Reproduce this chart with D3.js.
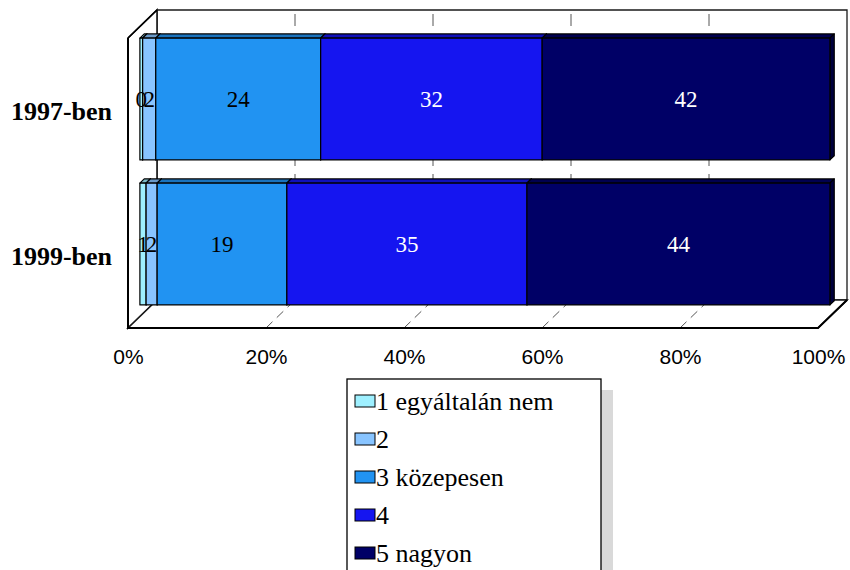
<!DOCTYPE html>
<html>
<head>
<meta charset="utf-8">
<script src="https://cdn.jsdelivr.net/npm/d3@7/dist/d3.min.js"></script>
<style>
  html, body { margin: 0; padding: 0; background: #fff; }
  svg { display: block; }
</style>
</head>
<body>
<svg id="chart" width="850" height="570"></svg>
<script>
// Survey answers, share of respondents (%) per year
const years = ["1997-ben", "1999-ben"];
const answers = ["1 egyáltalán nem", "2", "3 közepesen", "4", "5 nagyon"];
const values1997 = [0.4, 1.9, 23.9, 32.1, 41.7];
const values1999 = [0.9, 1.6, 18.8, 34.8, 43.9];
const tickValues = [0, 20, 40, 60, 80, 100];
const colors = ["#9ff0ff", "#88c4ff", "#2193f2", "#1515f0", "#000066"];
const labelColors = ["#000", "#000", "#000", "#fff", "#fff"];

const series = [values1997, values1999];

const svg = d3.select("#chart");

// Front plane of the 3-D box, plus the depth offset toward the back wall
const x = d3.scaleLinear().domain([0, 100]).range([128, 818]);
const y = d3.scaleBand().domain(years).range([38, 328])
  .paddingInner(0.16).paddingOuter(0.08);
const DX = 29, DY = -28;
const proj = (px, py, d) => [px + DX * d, py + DY * d];
const poly = pts => pts.map(p => p.join(",")).join(" ");

// Walls and floor
const yTop = 38, yBot = 328;
const wallStroke = "#1a1a1a";
svg.append("polygon") // back wall
  .attr("points", poly([proj(x(0), yTop, 1), proj(x(100), yTop, 1), proj(x(100), yBot, 1), proj(x(0), yBot, 1)]))
  .attr("fill", "#fff").attr("stroke", wallStroke).attr("stroke-width", 1.3);
svg.append("polygon") // side wall
  .attr("points", poly([[x(0), yTop], proj(x(0), yTop, 1), proj(x(0), yBot, 1), [x(0), yBot]]))
  .attr("fill", "#fff").attr("stroke", wallStroke).attr("stroke-width", 1.6);
svg.append("polygon") // floor
  .attr("points", poly([[x(0), yBot], proj(x(0), yBot, 1), proj(x(100), yBot, 1), [x(100), yBot]]))
  .attr("fill", "#fff").attr("stroke", wallStroke).attr("stroke-width", 1.6);

// Gridlines: along the floor and up the back wall
const grid = svg.append("g").attr("stroke", "#555").attr("stroke-width", 1)
  .attr("fill", "none").attr("stroke-dasharray", "9,6");
tickValues.slice(1, -1).forEach(t => {
  const front = [x(t), yBot];
  const back = proj(x(t), yBot, 1);
  const top = proj(x(t), yTop, 1);
  grid.append("path").attr("d", `M${front}L${back}`);
  grid.append("path").attr("d", `M${top}L${back}`).attr("stroke-dasharray", "12,8").attr("stroke-dashoffset", -4);
});

// 3-D stacked bars
const dFront = 0.41, dBack = 0.56;
const bars = svg.append("g");
series.forEach((vals, i) => {
  const cat = years[i];
  const y0 = y(cat), y1 = y(cat) + y.bandwidth();
  let acc = 0;
  vals.forEach((v, j) => {
    const a = acc, b = acc + v;
    acc = b;
    const c = d3.color(colors[j]);
    const g = bars.append("g").attr("stroke", "#000").attr("stroke-width", 1.2).attr("stroke-linejoin", "round");
    // top face
    g.append("polygon")
      .attr("points", poly([proj(x(a), y0, dFront), proj(x(a), y0, dBack), proj(x(b), y0, dBack), proj(x(b), y0, dFront)]))
      .attr("fill", c.darker(0.7));
    // right side face
    g.append("polygon")
      .attr("points", poly([proj(x(b), y0, dFront), proj(x(b), y0, dBack), proj(x(b), y1, dBack), proj(x(b), y1, dFront)]))
      .attr("fill", c.darker(1.4));
    // front face
    const f0 = proj(x(a), y0, dFront), f1 = proj(x(b), y1, dFront);
    g.append("rect")
      .attr("x", f0[0]).attr("y", f0[1])
      .attr("width", f1[0] - f0[0]).attr("height", f1[1] - f0[1])
      .attr("fill", colors[j]);
  });
});

// Value labels
const labels = svg.append("g")
  .attr("font-family", "'Liberation Serif', 'Times New Roman', serif")
  .attr("font-size", 23).attr("text-anchor", "middle");
series.forEach((vals, i) => {
  const cat = years[i];
  const yc = y(cat) + y.bandwidth() / 2;
  let acc = 0;
  vals.forEach((v, j) => {
    const a = acc, b = acc + v;
    acc = b;
    const p = proj(x((a + b) / 2), yc, dFront);
    labels.append("text")
      .attr("x", p[0]).attr("y", p[1] + 8)
      .attr("fill", labelColors[j])
      .text(d3.format(".0f")(v));
  });
});

// Front edges of the box drawn over the bars
svg.append("path")
  .attr("d", `M${x(0)},${yTop}L${x(0)},${yBot}L${x(100)},${yBot}L${proj(x(100), yBot, 1)}`)
  .attr("fill", "none").attr("stroke", "#000").attr("stroke-width", 2);
svg.append("path")
  .attr("d", `M${x(0)},${yTop}L${proj(x(0), yTop, 1)}`)
  .attr("fill", "none").attr("stroke", "#000").attr("stroke-width", 1.6);

// Category axis labels
svg.append("g")
  .attr("font-family", "'Liberation Serif', 'Times New Roman', serif")
  .attr("font-size", 26).attr("font-weight", "bold").attr("text-anchor", "end")
  .selectAll("text").data(years).join("text")
  .attr("x", 112)
  .attr("y", d => y(d) + y.bandwidth() / 2 + 9)
  .text(d => d);

// Percentage axis
const axis = d3.axisBottom(x).tickValues(tickValues).tickFormat(d => d + "%").tickSize(0).tickPadding(0);
const axG = svg.append("g").attr("transform", `translate(0,${yBot + 21})`).call(axis);
axG.select(".domain").remove();
axG.selectAll("text")
  .attr("font-family", "'Liberation Sans', Arial, sans-serif")
  .attr("font-size", 21).attr("fill", "#000").attr("dy", "0.71em");

// Legend with drop shadow
const lg = svg.append("g");
lg.append("rect").attr("x", 359).attr("y", 390).attr("width", 254).attr("height", 200).attr("fill", "#d9d9d9");
lg.append("rect").attr("x", 347).attr("y", 379).attr("width", 254).attr("height", 200)
  .attr("fill", "#fff").attr("stroke", "#000").attr("stroke-width", 1.3);
answers.forEach((name, i) => {
  const cy = 401 + i * 38;
  lg.append("rect").attr("x", 355).attr("y", cy - 6).attr("width", 20).attr("height", 12)
    .attr("fill", colors[i]).attr("stroke", "#000").attr("stroke-width", 1);
  lg.append("text").attr("x", 376).attr("y", cy + 9)
    .attr("font-family", "'Liberation Serif', 'Times New Roman', serif")
    .attr("font-size", 26).attr("fill", "#000").text(name);
});
</script>
</body>
</html>
